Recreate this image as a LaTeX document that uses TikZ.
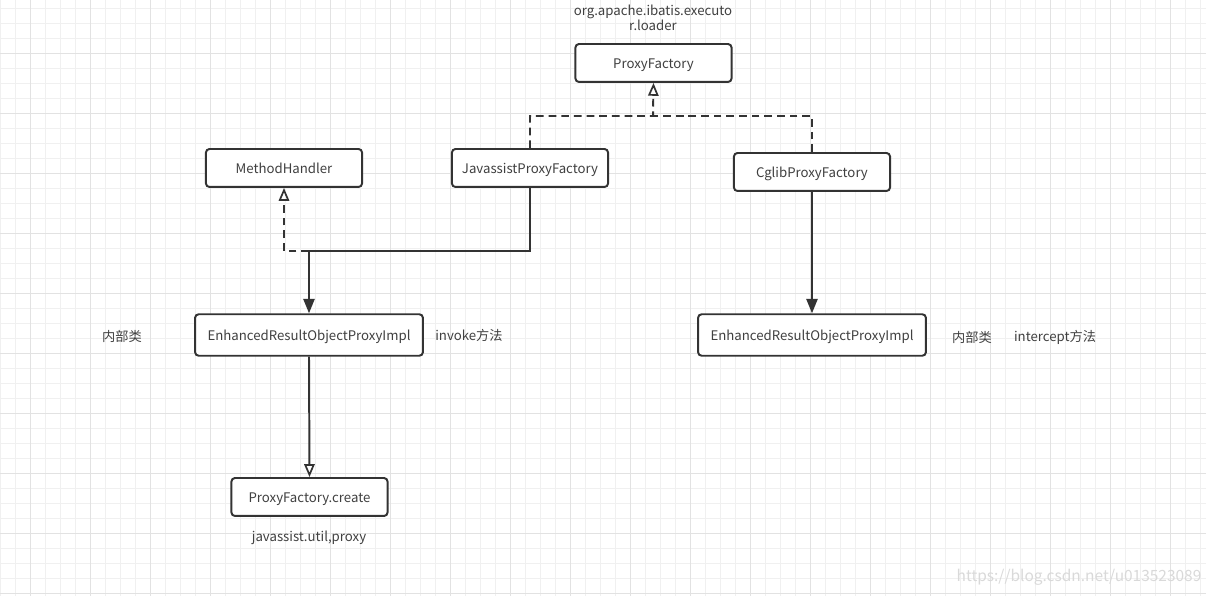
\documentclass[tikz,border=0pt]{standalone}
\usepackage{fontspec}
\setmainfont{Noto Sans CJK SC}
\usetikzlibrary{arrows.meta}
\definecolor{ink}{HTML}{333333}
\definecolor{words}{HTML}{404040}
\definecolor{gridminor}{HTML}{F0F0F0}
\definecolor{gridmajor}{HTML}{E2E2E2}
\tikzset{
    box/.style={draw=ink, line width=1.4pt, rounded corners=2.5pt, fill=white,
        minimum width=111pt, minimum height=27pt, text=words,
        text height=9.4pt, text depth=2pt,
        font=\fontsize{9.4}{11}\selectfont, inner sep=0pt},
    widebox/.style={box, minimum width=162pt, minimum height=29.5pt},
    lbl/.style={text=words, font=\fontsize{9.4}{11}\selectfont, inner sep=0pt},
    realize/.style={draw=ink, line width=1.4pt, dash pattern=on 5.5pt off 3.5pt,
        -{Triangle[open, length=3.2mm, width=2.6mm, line width=1.2pt]}},
    uses/.style={draw=ink, line width=1.4pt, -{Triangle[length=3.6mm, width=2.8mm]}},
    creates/.style={draw=ink, line width=1.4pt,
        -{Triangle[open, length=3.2mm, width=2.6mm, line width=1.2pt]}}
}
\begin{document}
\begin{tikzpicture}[x=0.025cm, y=-0.025cm]
    % background grid
    \fill[white] (0, 0) rectangle (1206, 596);
    \useasboundingbox (0, 0) rectangle (1206, 596);
    \foreach \x in {0, 15, ..., 1200}
        \draw[gridminor, line width=0.7pt] (\x, 0) -- (\x, 596);
    \foreach \y in {8, 23, ..., 596}
        \draw[gridminor, line width=0.7pt] (0, \y) -- (1206, \y);
    \foreach \x in {30, 90, ..., 1200}
        \draw[gridmajor, line width=0.7pt] (\x, 0) -- (\x, 596);
    \foreach \y in {53, 113, ..., 596}
        \draw[gridmajor, line width=0.7pt] (0, \y) -- (1206, \y);

    % classes
    \node[box] (pf) at (653.5, 63) {ProxyFactory};
    \node[box] (mh) at (284, 168) {MethodHandler};
    \node[box] (jpf) at (530, 168) {JavassistProxyFactory};
    \node[box] (cpf) at (812, 172) {CglibProxyFactory};
    \node[widebox] (erl) at (309, 335) {EnhancedResultObjectProxyImpl};
    \node[widebox] (err) at (812, 335) {EnhancedResultObjectProxyImpl};
    \node[box] (pfc) at (309.5, 497) {ProxyFactory.create};

    % notes
    \node[lbl, align=center] (pkg) at (653, 18) {org.apache.ibatis.executo\\r.loader};
    \node[lbl] (innerl) at (122, 336) {内部类};
    \node[lbl] (invoke) at (469, 335) {invoke方法};
    \node[lbl] (innerr) at (972, 337) {内部类};
    \node[lbl] (intercept) at (1055, 337) {intercept方法};
    \node[lbl] (jpkg) at (309, 538) {javassist.util,proxy};

    % connectors
    \coordinate (join) at (653, 116);
    \coordinate (turn) at (309, 251);
    \draw[realize] (jpf.north) |- (join) -- (pf.south);
    \draw[realize, -] (cpf.north) |- (join);
    \draw[realize] (turn) -| (mh.south);
    \draw[uses] (jpf.south) |- (turn) -- (erl.north);
    \draw[uses] (cpf.south) -- (err.north);
    \draw[creates] (erl.south) -- (pfc.north);

    \node[text=black!15, font=\fontsize{11}{13}\selectfont, inner sep=0pt] (mark) at (1079, 577) {https://blog.csdn.net/u013523089};
\end{tikzpicture}
\end{document}
